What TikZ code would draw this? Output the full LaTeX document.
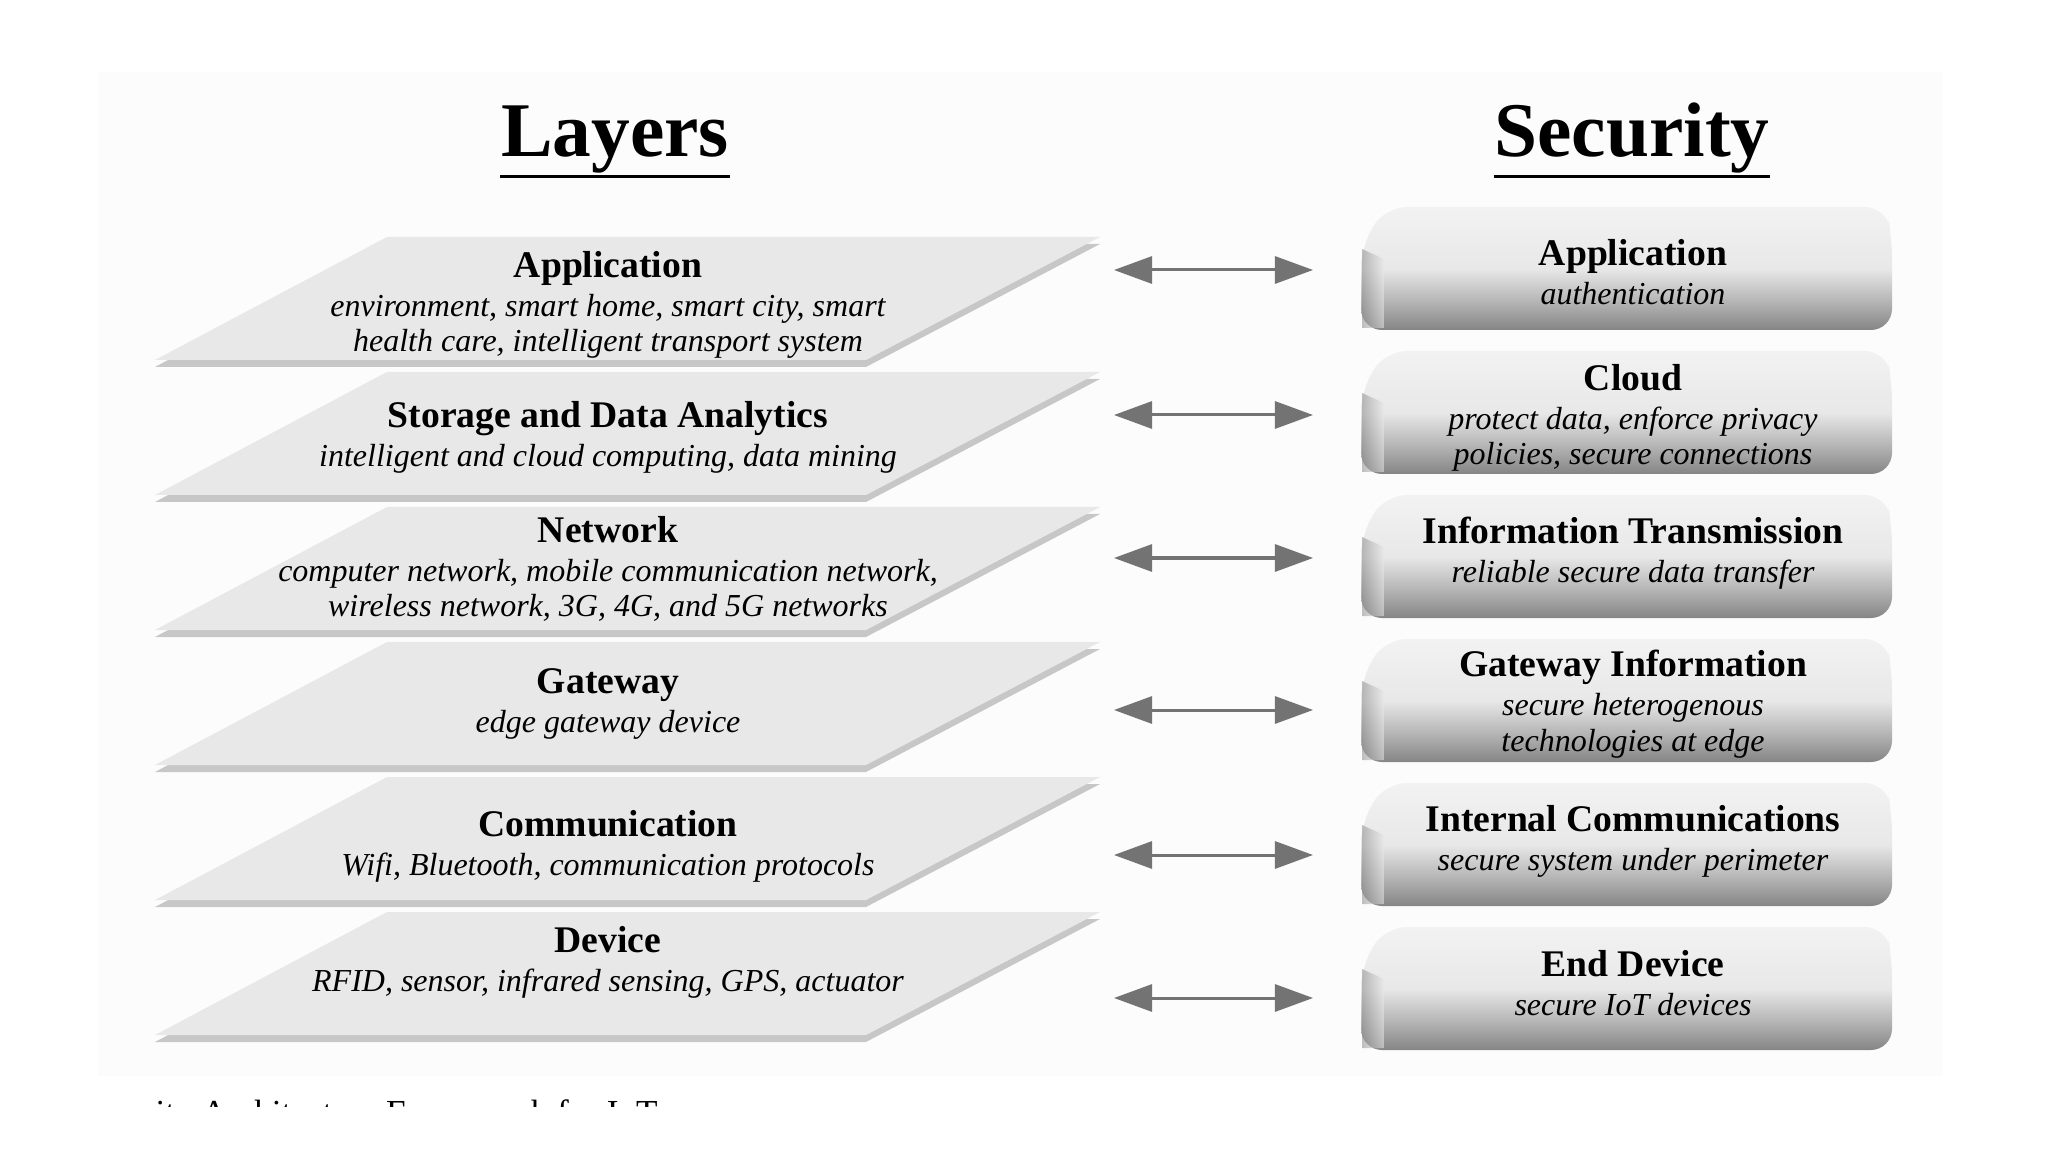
\documentclass[tikz,border=0pt]{standalone}
\usepackage{fontspec}
\setmainfont{Liberation Serif}
\usetikzlibrary{arrows.meta,calc}
\tikzset{>=latex}
\pgfdeclareverticalshading{secshade}{100bp}{color(0bp)=(black!48); color(25bp)=(black!48); color(36bp)=(black!30); color(50bp)=(black!9); color(75bp)=(black!5); color(100bp)=(black!5)}
\newcommand{\lyr}[1]{{\upshape\bfseries\fontsize{10.7}{12}\selectfont #1}}

\begin{document}
\begin{tikzpicture}[x=0.01cm,y=-0.01cm]
      \tikzstyle{plate}=[fill=black!9];
      \tikzstyle{plateedge}=[fill=black!22];
      \tikzstyle{layertext}=[align=center,inner sep=0pt,font=\fontsize{9.1}{10.1}\selectfont\itshape];
      \tikzstyle{heading}=[inner sep=0pt,anchor=base,font=\fontsize{22}{26}\selectfont\bfseries];
      \tikzstyle{secbox}=[shading=secshade,rounded corners=6];
      \tikzstyle{secarrow}=[black!55,line width=0.03cm,{Triangle[length=0.38cm,width=0.27cm]}-{Triangle[length=0.38cm,width=0.27cm]}];
      \useasboundingbox (0,0) rectangle (2048,1152);
      \fill[white] (0,0) rectangle (2048,1152);
      \fill[black!1] (98,72) rectangle (1943,1076);

      % headings
      \node[heading] (layers) at (615,157) {Layers};
      \node[heading] (security) at (1632,157) {Security};
      \draw[line width=0.03cm] ($(layers.base west)+(0,20)$) -- ($(layers.base east)+(0,20)$);
      \draw[line width=0.03cm] ($(security.base west)+(0,20)$) -- ($(security.base east)+(0,20)$);

      % layer plates
      \foreach \t in {237,372,507,642,777,912}{
        \fill[plateedge] (387,\t+7) -- (1100,\t+7) -- (866,\t+130) -- (155,\t+130) -- cycle;
        \fill[plate] (387,\t) -- (1100,\t) -- (866,\t+123) -- (155,\t+123) -- cycle;
      }
      \node[layertext] (app) at (608,305) {\lyr{Application}\\[1pt] environment, smart home, smart city, smart\\ health care, intelligent transport system};
      \node[layertext] (storage) at (608,437) {\lyr{Storage and Data Analytics}\\[1pt] intelligent and cloud computing, data mining};
      \node[layertext] (network) at (608,569) {\lyr{Network}\\[1pt] computer network, mobile communication network,\\ wireless network, 3G, 4G, and 5G networks};
      \node[layertext] (gateway) at (608,704) {\lyr{Gateway}\\[1pt] edge gateway device};
      \node[layertext] (comm) at (608,846) {\lyr{Communication}\\[1pt] Wifi, Bluetooth, communication protocols};
      \node[layertext] (device) at (608,962) {\lyr{Device}\\[1pt] RFID, sensor, infrared sensing, GPS, actuator};

      % security boxes
      \foreach \t/\a/\i in {207/270/1,351/415/2,495/558/3,639/710/4,783/855/5,927/998/6}{
        \shade[secbox] (1361,\t+123) -- (1361,\t+40) -- (1385,\t) -- (1886,\t) -- (1892,\t+30) -- (1892,\t+123) -- cycle;
        \shade[left color=black!45,right color=black!8,opacity=0.55] (1362,\t+42) -- (1384,\t+52) -- (1384,\t+121) -- (1362,\t+121) -- cycle;
        \coordinate (box\i) at (1361,\a);
      }
      \node[layertext] (secapp) at (1633,272) {\lyr{Application}\\[1pt] authentication};
      \node[layertext] (cloud) at (1633,418) {\lyr{Cloud}\\[1pt] protect data, enforce privacy\\ policies, secure connections};
      \node[layertext] (transm) at (1633,553) {\lyr{Information Transmission}\\[1pt] reliable secure data transfer};
      \node[layertext] (gwinfo) at (1633,704) {\lyr{Gateway Information}\\[1pt] secure heterogenous\\ technologies at edge};
      \node[layertext] (internal) at (1633,841) {\lyr{Internal Communications}\\[1pt] secure system under perimeter};
      \node[layertext] (enddev) at (1633,983) {\lyr{End Device}\\[1pt] secure IoT devices};

      % arrows
      \foreach \i in {1,...,6}
        \draw[secarrow] ($(box\i)+(-247,0)$) -- ($(box\i)+(-48,0)$);

      % cut caption
      \begin{scope}
        \clip (0,1090) rectangle (2048,1106);
        \node[inner sep=0pt,anchor=base west,font=\fontsize{10}{12}\selectfont] (caption) at (155,1124) {ity Architecture Framework for IoT};
      \end{scope}
\end{tikzpicture}
\end{document}
